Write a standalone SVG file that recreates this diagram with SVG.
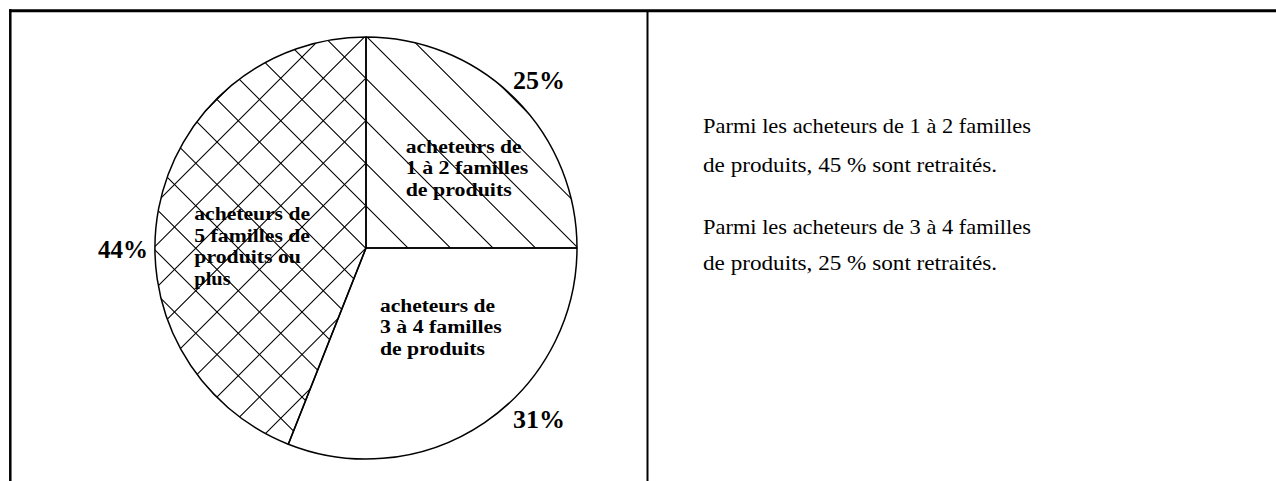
<svg xmlns="http://www.w3.org/2000/svg" width="1276" height="481" viewBox="0 0 1276 481">
<style>
.frame{stroke:#000;fill:none}
.edge{stroke:#000;stroke-width:1.5;stroke-linejoin:round;fill:none}
.hl{stroke:#000;stroke-width:1.1;fill:none}
.pct{font-family:"Liberation Serif",serif;font-weight:bold;font-size:25px;fill:#000}
.lbl{font-family:"Liberation Serif",serif;font-weight:bold;font-size:18px;fill:#000}
.txt{font-family:"Liberation Serif",serif;font-size:22px;fill:#000}
</style>
<defs>
<clipPath id="clipHatch">
<path d="M366,248 L366,37 A211,211 0 0 1 577,248 Z"/>
<path d="M366,248 L288.3,444.2 A211,211 0 0 1 366,37 Z"/>
</clipPath>
<clipPath id="clip44">
<path d="M366,248 L288.3,444.2 A211,211 0 0 1 366,37 Z"/>
</clipPath>
</defs>
<rect width="1276" height="481" fill="#fff"/>
<g id="frame">
<line class="frame" x1="9" y1="10.8" x2="1276" y2="10.8" stroke-width="3"/>
<line class="frame" x1="10.3" y1="9.3" x2="10.3" y2="481" stroke-width="2.5"/>
<line class="frame" x1="647.5" y1="12" x2="647.5" y2="481" stroke-width="2"/>
</g>
<g id="hatching">
<path class="hl" clip-path="url(#clipHatch)" d="M150,-392.5 L582,39.5 M150,-350 L582,82 M150,-307.5 L582,124.5 M150,-265 L582,167 M150,-222.5 L582,209.5 M150,-180 L582,252 M150,-137.5 L582,294.5 M150,-95 L582,337 M150,-52.5 L582,379.5 M150,-10 L582,422 M150,32.5 L582,464.5 M150,75 L582,507 M150,117.5 L582,549.5 M150,160 L582,592 M150,202.5 L582,634.5 M150,245 L582,677 M150,287.5 L582,719.5 M150,330 L582,762 M150,372.5 L582,804.5 M150,415 L582,847 M150,457.5 L582,889.5"/>
<path class="hl" clip-path="url(#clip44)" d="M150,166.5 L582,-265.5 M150,209 L582,-223 M150,251.5 L582,-180.5 M150,294 L582,-138 M150,336.5 L582,-95.5 M150,379 L582,-53 M150,421.5 L582,-10.5 M150,464 L582,32 M150,506.5 L582,74.5 M150,549 L582,117 M150,591.5 L582,159.5"/>
</g>
<g id="slice-25">
<path class="edge" d="M366,248 L366,37 A211,211 0 0 1 577,248 Z"/>
</g>
<g id="slice-31">
<path class="edge" d="M366,248 L577,248 A211,211 0 0 1 288.3,444.2 Z"/>
</g>
<g id="slice-44">
<path class="edge" d="M366,248 L288.3,444.2 A211,211 0 0 1 366,37 Z"/>
</g>
<g id="labels-pct">
<text class="pct" x="513" y="88.5" textLength="52" lengthAdjust="spacingAndGlyphs">25%</text>
<text class="pct" x="513" y="428.3" textLength="52" lengthAdjust="spacingAndGlyphs">31%</text>
<text class="pct" x="98" y="258.3" textLength="50" lengthAdjust="spacingAndGlyphs">44%</text>
</g>
<g id="label-25">
<text class="lbl" x="405.7" y="152.5" textLength="116" lengthAdjust="spacingAndGlyphs">acheteurs de</text>
<text class="lbl" x="405.7" y="174.3" textLength="122.6" lengthAdjust="spacingAndGlyphs">1 à 2 familles</text>
<text class="lbl" x="405.7" y="196" textLength="106" lengthAdjust="spacingAndGlyphs">de produits</text>
</g>
<g id="label-31">
<text class="lbl" x="380" y="311.7" textLength="115" lengthAdjust="spacingAndGlyphs">acheteurs de</text>
<text class="lbl" x="380" y="333.3" textLength="121.7" lengthAdjust="spacingAndGlyphs">3 à 4 familles</text>
<text class="lbl" x="380" y="355" textLength="105" lengthAdjust="spacingAndGlyphs">de produits</text>
</g>
<g id="label-44">
<text class="lbl" x="194.3" y="219.5" textLength="115.7" lengthAdjust="spacingAndGlyphs">acheteurs de</text>
<text class="lbl" x="194.3" y="241.5" textLength="115.7" lengthAdjust="spacingAndGlyphs">5 familles de</text>
<text class="lbl" x="194.3" y="263" textLength="106.7" lengthAdjust="spacingAndGlyphs">produits ou</text>
<text class="lbl" x="194.3" y="284.5" textLength="36.3" lengthAdjust="spacingAndGlyphs">plus</text>
</g>
<g id="note">
<text class="txt" x="703" y="133.3" textLength="328" lengthAdjust="spacingAndGlyphs">Parmi les acheteurs de 1 à 2 familles</text>
<text class="txt" x="703" y="171.7" textLength="294" lengthAdjust="spacingAndGlyphs">de produits, 45 % sont retraités.</text>
<text class="txt" x="703" y="233.5" textLength="328" lengthAdjust="spacingAndGlyphs">Parmi les acheteurs de 3 à 4 familles</text>
<text class="txt" x="703" y="270" textLength="294" lengthAdjust="spacingAndGlyphs">de produits, 25 % sont retraités.</text>
</g>
</svg>
